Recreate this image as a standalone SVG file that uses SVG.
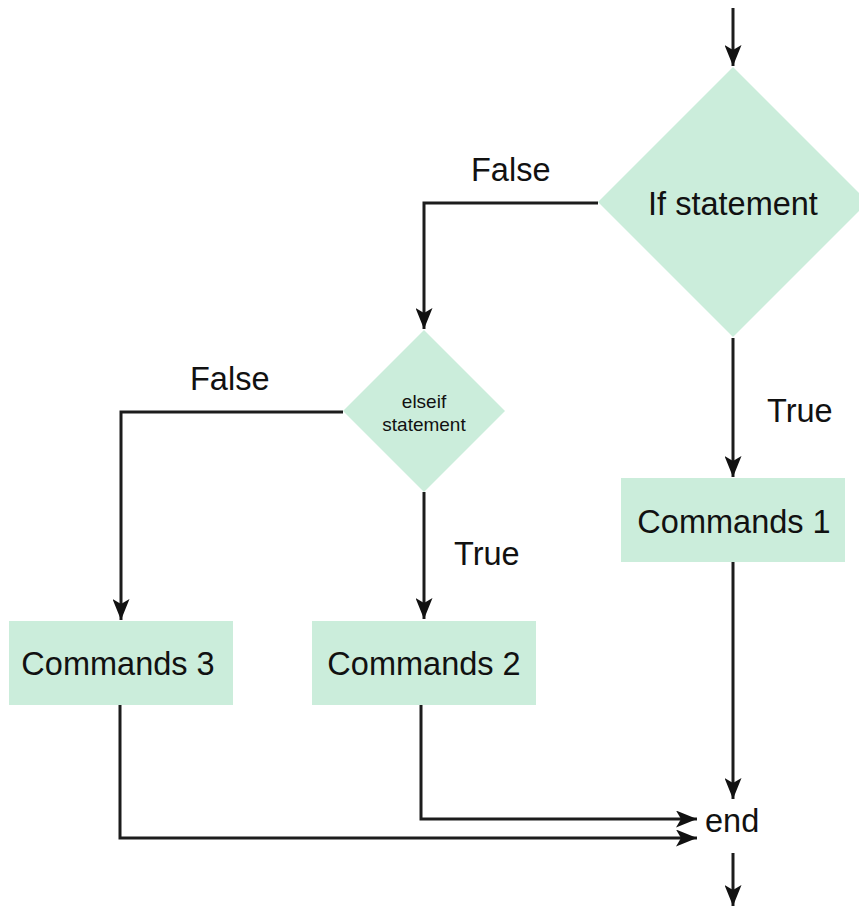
<svg xmlns="http://www.w3.org/2000/svg" width="859" height="906" viewBox="0 0 859 906">
  <style>
    .node { fill: #cbeddb; stroke: none; }
    .label { font-family: "Liberation Sans", Arial, sans-serif; font-size: 32.5px; fill: #111; }
    .small { font-size: 19px; }
    .edge { fill: none; stroke: #1c1c1c; stroke-width: 3; }
  </style>
  <defs>
    <marker id="arrow" markerUnits="userSpaceOnUse" markerWidth="21" markerHeight="17" refX="21" refY="8.5" orient="auto">
      <path d="M0,0 L21,8.5 L0,17 L5,8.5 Z" fill="#111"/>
    </marker>
  </defs>

  <rect width="859" height="906" fill="#ffffff"/>

  <!-- connectors -->
  <g id="connectors">
    <path class="edge" d="M733,8 V66" marker-end="url(#arrow)"/>
    <path class="edge" d="M598,203 H424 V329" marker-end="url(#arrow)"/>
    <path class="edge" d="M733,338 V477" marker-end="url(#arrow)"/>
    <path class="edge" d="M343,412 H121 V620" marker-end="url(#arrow)"/>
    <path class="edge" d="M424,492 V619" marker-end="url(#arrow)"/>
    <path class="edge" d="M733,562 V799" marker-end="url(#arrow)"/>
    <path class="edge" d="M421,705 V819 H697" marker-end="url(#arrow)"/>
    <path class="edge" d="M120,705 V838 H697" marker-end="url(#arrow)"/>
    <path class="edge" d="M733,853 V906" marker-end="url(#arrow)"/>
    <text class="label" x="471" y="181">False</text>
    <text class="label" x="190" y="390">False</text>
    <text class="label" x="767" y="422">True</text>
    <text class="label" x="454" y="565">True</text>
  </g>

  <g id="if-statement">
    <polygon class="node" points="733,67 868,202 733,337 598,202"/>
    <text class="label" x="733" y="215" text-anchor="middle">If statement</text>
  </g>

  <g id="elseif-statement">
    <polygon class="node" points="424,330 505,411 424,492 343,411"/>
    <text class="label small" x="424" y="408" text-anchor="middle">elseif</text>
    <text class="label small" x="424" y="431" text-anchor="middle">statement</text>
  </g>

  <g id="commands-1">
    <rect class="node" x="621" y="478" width="224" height="84"/>
    <text class="label" x="734" y="533" text-anchor="middle">Commands 1</text>
  </g>

  <g id="commands-2">
    <rect class="node" x="312" y="621" width="224" height="84"/>
    <text class="label" x="424" y="675" text-anchor="middle">Commands 2</text>
  </g>

  <g id="commands-3">
    <rect class="node" x="9" y="621" width="224" height="84"/>
    <text class="label" x="118" y="675" text-anchor="middle">Commands 3</text>
  </g>

  <g id="end">
    <text class="label" x="705" y="832">end</text>
  </g>
</svg>
